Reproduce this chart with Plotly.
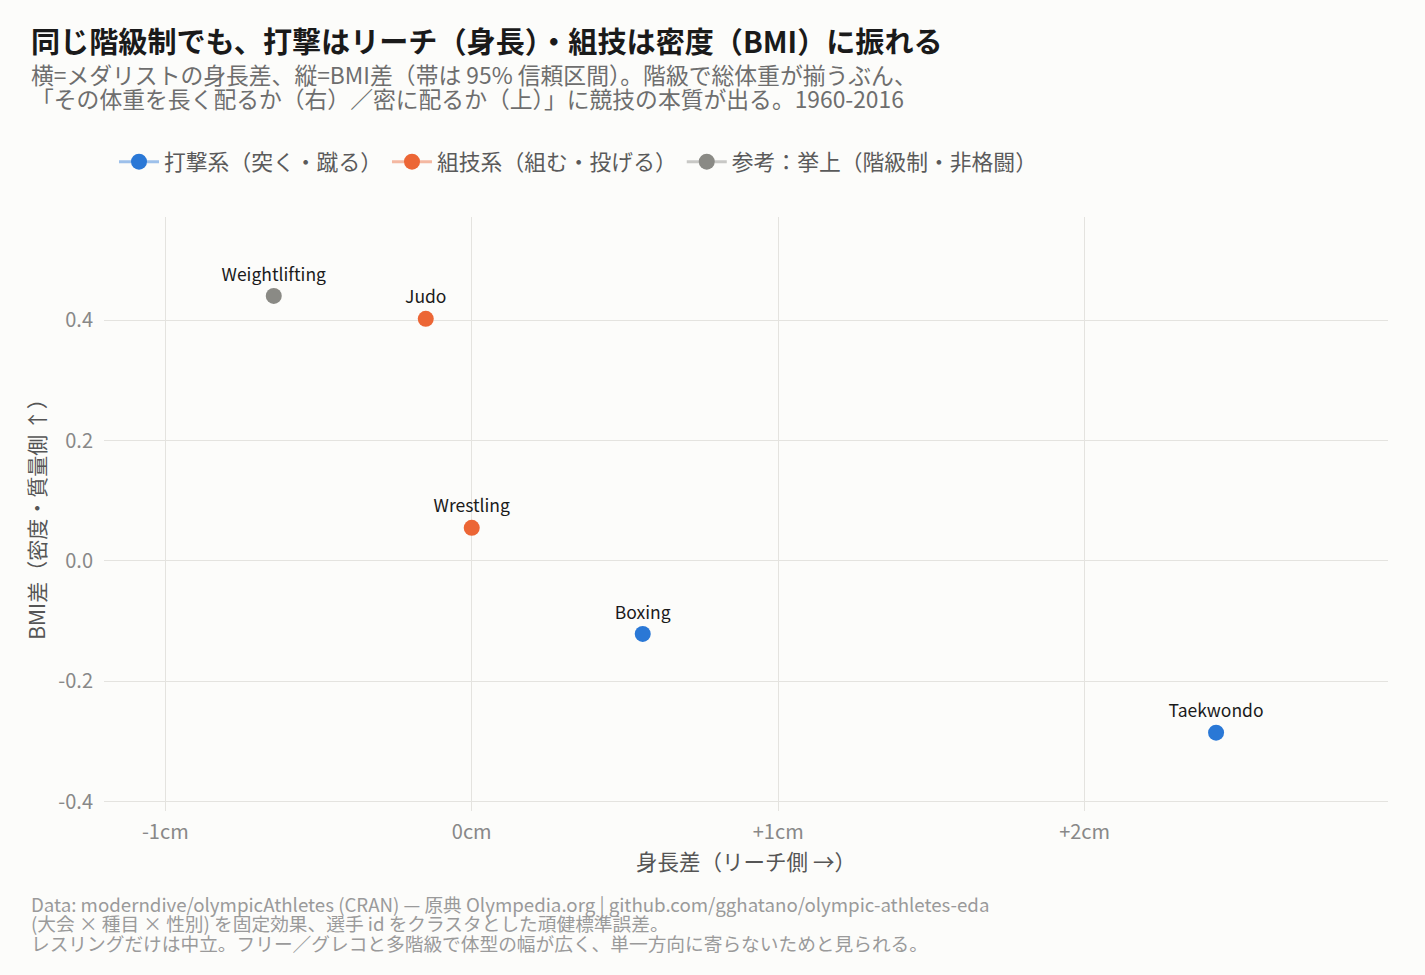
import plotly.graph_objects as go

# medalist height diff (cm) vs BMI diff, per sport
sports = ["Boxing", "Taekwondo", "Judo", "Wrestling", "Weightlifting"]
groups = ["strike", "strike", "grapple", "grapple", "ref"]
height_diff = [0.558, 2.429, -0.150, 0.0, -0.646]
bmi_diff = [-0.121, -0.285, 0.402, 0.055, 0.440]

group_names = {
    "strike": "打撃系（突く・蹴る）",
    "grapple": "組技系（組む・投げる）",
    "ref": "参考：挙上（階級制・非格闘）",
}
group_colors = {"strike": "#2A78D6", "grapple": "#EC6635", "ref": "#8A8A85"}
group_lines = {"strike": "rgba(42,120,214,0.45)", "grapple": "rgba(236,102,53,0.45)",
               "ref": "rgba(138,138,133,0.45)"}

x_ticks = [-1, 0, 1, 2]
x_labels = ["-1cm", "0cm", "+1cm", "+2cm"]
y_ticks = [-0.4, -0.2, 0.0, 0.2, 0.4]
y_labels = ["-0.4", "-0.2", "0.0", "0.2", "0.4"]

title = "<b>同じ階級制でも、打撃はリーチ（身長）・組技は密度（BMI）に振れる</b>"
subtitle = [
    "横=メダリストの身長差、縦=BMI差（帯は 95% 信頼区間）。階級で総体重が揃うぶん、",
    "「その体重を長く配るか（右）／密に配るか（上）」に競技の本質が出る。1960-2016",
]
footer = [
    "Data: moderndive/olympicAthletes (CRAN) — 原典 Olympedia.org | github.com/gghatano/olympic-athletes-eda",
    "(大会 × 種目 × 性別) を固定効果、選手 id をクラスタとした頑健標準誤差。",
    "レスリングだけは中立。フリー／グレコと多階級で体型の幅が広く、単一方向に寄らないためと見られる。",
]

FONT = "Noto Sans CJK JP"
W, H = 1425, 975
L, R, T, B = 104, 37, 217, 164


def px_x(px):
    return (px - L) / (W - L - R)


def px_y(py):
    return (H - B - py) / (H - T - B)


fig = go.Figure()
seen = set()
for s, g, x, y in zip(sports, groups, height_diff, bmi_diff):
    fig.add_trace(go.Scatter(
        x=[x], y=[y], mode="lines+markers+text", text=[s], textposition="top center",
        textfont=dict(size=17.5, color="#1a1a1a", family=FONT),
        marker=dict(size=16, color=group_colors[g]),
        line=dict(color=group_lines[g], width=3),
        name=group_names[g], legendgroup=g, showlegend=g not in seen,
    ))
    seen.add(g)

fig.update_layout(
    width=W, height=H,
    paper_bgcolor="#FCFCFA", plot_bgcolor="#FCFCFA",
    font=dict(family=FONT, color="#555555"),
    margin=dict(l=L, r=R, t=T, b=B),
    legend=dict(orientation="h", x=px_x(114), xanchor="left", y=px_y(162), yanchor="middle",
                font=dict(size=21.8, color="#5A5A5A"), bgcolor="rgba(0,0,0,0)",
                itemwidth=40),
    showlegend=True,
)
fig.update_xaxes(
    range=[-1.2, 2.99], tickvals=x_ticks, ticktext=x_labels,
    showgrid=True, gridcolor="#E4E3DF", gridwidth=1.3, zeroline=False,
    tickfont=dict(size=20, color="#888888"), ticklabelstandoff=7,
    title=dict(text="身長差（リーチ側 →）", font=dict(size=21.5, color="#555555"), standoff=1),
)
fig.update_yaxes(
    range=[-0.415, 0.571], tickvals=y_ticks, ticktext=y_labels,
    showgrid=True, gridcolor="#E4E3DF", gridwidth=1.3, zeroline=False,
    tickfont=dict(size=20, color="#888888"), ticklabelstandoff=10,
    title=dict(text="BMI差（密度・質量側 ↑）", font=dict(size=21, color="#555555"), standoff=6),
)

fig.add_annotation(text=title, xref="paper", yref="paper", x=px_x(29), y=px_y(40),
                   xanchor="left", yanchor="middle", showarrow=False,
                   font=dict(size=29.1, color="#1a1a1a", family=FONT))
for line, py in zip(subtitle, [74, 98]):
    fig.add_annotation(text=line, xref="paper", yref="paper", x=px_x(29), y=px_y(py),
                       xanchor="left", yanchor="middle", showarrow=False,
                       font=dict(size=22.8, color="#6E6E6E", family=FONT))
for line, py in zip(footer, [903, 922, 942]):
    fig.add_annotation(text=line, xref="paper", yref="paper", x=px_x(29), y=px_y(py),
                       xanchor="left", yanchor="middle", showarrow=False,
                       font=dict(size=18.7, color="#9A9A9A", family=FONT))

fig.write_html("out.html", config={"displayModeBar": False},
               post_script="document.body.style.margin='0';")
